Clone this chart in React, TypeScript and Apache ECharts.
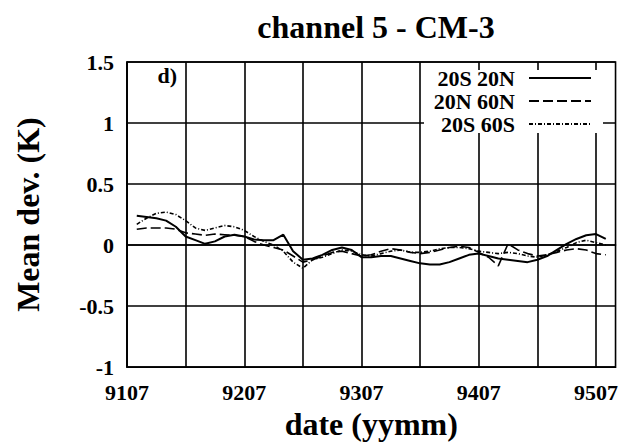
import React, { useEffect, useRef } from "react";
import * as echarts from "echarts";

// Monthly dates (yymm), July 1991 to September 1995
const dates = [
  "9107", "9108", "9109", "9110", "9111", "9112",
  "9201", "9202", "9203", "9204", "9205", "9206", "9207", "9208", "9209", "9210", "9211", "9212",
  "9301", "9302", "9303", "9304", "9305", "9306", "9307", "9308", "9309", "9310", "9311", "9312",
  "9401", "9402", "9403", "9404", "9405", "9406", "9407", "9408", "9409", "9410", "9411", "9412",
  "9501", "9502", "9503", "9504", "9505", "9506", "9507", "9508", "9509",
];

// Labelled ticks on the date axis
const tickLabels = ["9107", "9207", "9307", "9407", "9507"];

// Mean deviation (K) per latitude band
const band20S20N = [
  null, 0.24, 0.23, 0.22, 0.2, 0.15, 0.07, 0.04, 0.01, 0.03, 0.07,
  0.085, 0.07, 0.045, 0.04, 0.04, 0.085, -0.05, -0.12, -0.11, -0.08,
  -0.04, -0.02, -0.04, -0.1, -0.1, -0.09, -0.09, -0.11, -0.13, -0.15,
  -0.16, -0.16, -0.14, -0.11, -0.08, -0.07, -0.09, -0.11, -0.12, -0.13,
  -0.14, -0.12, -0.09, -0.04, 0.01, 0.05, 0.08, 0.09, 0.05, null,
];
const band20N60N = [
  null, 0.13, 0.14, 0.14, 0.14, 0.13, 0.1, 0.09, 0.08, 0.09, 0.085,
  0.08, 0.07, 0.03, 0.0, -0.02, -0.04, -0.09, -0.14, -0.12, -0.09,
  -0.06, -0.05, -0.07, -0.09, -0.08, -0.05, -0.03, -0.04, -0.06, -0.07,
  -0.06, -0.04, -0.02, -0.01, -0.02, -0.06, -0.1, -0.17, 0.01, -0.04,
  -0.07, -0.09, -0.08, -0.06, -0.04, -0.03, -0.04, -0.07, -0.08, null,
];
const band20S60S = [
  null, 0.17, 0.22, 0.26, 0.27, 0.25, 0.2, 0.14, 0.12, 0.14, 0.16,
  0.15, 0.12, 0.07, 0.03, 0.0, -0.05, -0.14, -0.19, -0.12, -0.1,
  -0.07, -0.04, -0.05, -0.08, -0.09, -0.07, -0.05, -0.04, -0.06, -0.06,
  -0.05, -0.03, -0.02, -0.02, -0.03, -0.05, -0.06, -0.07, -0.06, -0.07,
  -0.09, -0.1, -0.08, -0.05, -0.02, 0.02, 0.04, 0.02, 0.0, null,
];

const seriesNames = ["20S 20N", "20N 60N", "20S 60S"];

const FONT = "'Liberation Serif', 'Times New Roman', serif";

export default function App() {
  const ref = useRef<HTMLDivElement>(null);

  useEffect(() => {
    if (!ref.current) return;
    const chart = echarts.init(ref.current, undefined, { renderer: "svg" });

    const lineOf = (name: string, data: (number | null)[], type: any, width: number) => ({
      name,
      type: "line",
      data,
      symbol: "none",
      connectNulls: false,
      lineStyle: { color: "#000", width, type },
      itemStyle: { color: "#000" },
      z: 3,
    });

    chart.setOption({
      animation: false,
      backgroundColor: "#fff",
      title: {
        text: "channel 5 - CM-3",
        left: 371,
        top: 6,
        textAlign: "center",
        textStyle: { fontFamily: FONT, fontWeight: "bold", fontSize: 32, color: "#000" },
      },
      grid: {
        left: 127,
        right: 5,
        top: 62,
        bottom: 70,
        show: true,
        borderColor: "#000",
        borderWidth: 1.6,
        backgroundColor: "transparent",
      },
      legend: {
        orient: "vertical",
        align: "right",
        right: 29,
        top: 67,
        padding: 0,
        itemGap: 1,
        itemWidth: 62,
        itemHeight: 14,
        data: seriesNames,
        itemStyle: { opacity: 0 },
        textStyle: {
          fontFamily: FONT,
          fontWeight: "bold",
          fontSize: 22,
          color: "#000",
          padding: [0, 9, 0, 0],
        },
        z: 6,
      },
      graphic: [
        {
          type: "rect",
          shape: { x: 424, y: 70, width: 179, height: 63 },
          style: { fill: "#fff" },
          z: 4,
          silent: true,
        },
        {
          type: "text",
          x: 177,
          y: 75,
          style: {
            text: "d)",
            align: "right",
            verticalAlign: "middle",
            fontFamily: FONT,
            fontWeight: "bold",
            fontSize: 22,
            fill: "#000",
          },
          z: 6,
        },
      ],
      xAxis: {
        type: "category",
        data: dates,
        boundaryGap: false,
        name: "date (yymm)",
        nameLocation: "middle",
        nameGap: 30,
        nameTextStyle: { fontFamily: FONT, fontWeight: "bold", fontSize: 32, color: "#000" },
        axisLine: { show: true, lineStyle: { color: "#000", width: 1.6 } },
        axisTick: { show: false },
        axisLabel: {
          interval: (i: number, v: string) => tickLabels.includes(v),
          formatter: (v: string) => (tickLabels.includes(v) ? v : ""),
          margin: 14,
          fontFamily: FONT,
          fontWeight: "bold",
          fontSize: 22,
          color: "#000",
        },
        splitLine: {
          show: true,
          interval: (i: number) => i % 6 === 0,
          lineStyle: { color: "#000", width: 1.6 },
        },
      },
      yAxis: {
        type: "value",
        min: -1,
        max: 1.5,
        interval: 0.5,
        name: "Mean dev. (K)",
        nameLocation: "middle",
        nameGap: 83,
        nameTextStyle: { fontFamily: FONT, fontWeight: "bold", fontSize: 32, color: "#000" },
        axisLine: { show: true, lineStyle: { color: "#000", width: 1.6 } },
        axisTick: { show: false },
        axisLabel: {
          margin: 13,
          fontFamily: FONT,
          fontWeight: "bold",
          fontSize: 22,
          color: "#000",
        },
        splitLine: { show: true, lineStyle: { color: "#000", width: 1.6 } },
      },
      series: [
        lineOf(seriesNames[0], band20S20N, "solid", 2),
        lineOf(seriesNames[1], band20N60N, [10, 4], 1.6),
        lineOf(seriesNames[2], band20S60S, [4, 2, 1, 2], 1.6),
      ],
    });

    return () => chart.dispose();
  }, []);

  return (
    <div
      ref={ref}
      style={{ position: "fixed", left: 0, top: 0, width: 621, height: 445, background: "#fff" }}
    />
  );
}
